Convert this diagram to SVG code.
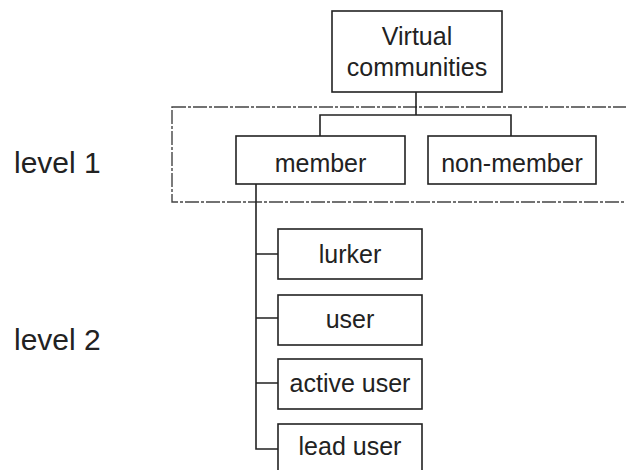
<svg xmlns="http://www.w3.org/2000/svg" width="626" height="470" viewBox="0 0 626 470">
<style>
.box{fill:#fff;stroke:#222;stroke-width:1.6}
.t{font-family:"Liberation Sans",Arial,sans-serif;font-size:25px;fill:#222;text-anchor:middle}
.lv{font-family:"Liberation Sans",Arial,sans-serif;font-size:30px;fill:#222}
.c{fill:none;stroke:#222;stroke-width:1.6}
.grp{fill:none;stroke:#444;stroke-width:1.4;stroke-dasharray:14 2 3 2}
</style>
<rect width="626" height="470" fill="#fff"/>
<rect class="grp" x="172" y="107" width="470" height="95"/>
<g id="connectors">
<path class="c" d="M416 92V115M320 136V115H511V136"/>
<path class="c" d="M256 184V449H278M256 254H278M256 318H278M256 383H278"/>
</g>
<g id="virtual-communities">
<rect class="box" x="332" y="11" width="170" height="81"/>
<text class="t" x="417" y="45">Virtual</text>
<text class="t" x="417" y="76">communities</text>
</g>
<g id="member">
<rect class="box" x="236" y="136" width="169" height="48"/>
<text class="t" x="320.5" y="172">member</text>
</g>
<g id="non-member">
<rect class="box" x="428" y="136" width="168" height="48"/>
<text class="t" x="512" y="172">non-member</text>
</g>
<g id="lurker">
<rect class="box" x="278" y="229" width="144" height="50"/>
<text class="t" x="350" y="263">lurker</text>
</g>
<g id="user">
<rect class="box" x="278" y="295" width="144" height="50"/>
<text class="t" x="350" y="328">user</text>
</g>
<g id="active-user">
<rect class="box" x="278" y="359" width="144" height="50"/>
<text class="t" x="350" y="392">active user</text>
</g>
<g id="lead-user">
<rect class="box" x="278" y="424" width="144" height="60"/>
<text class="t" x="350" y="455">lead user</text>
</g>
<g id="labels">
<text class="lv" x="14" y="173">level 1</text>
<text class="lv" x="14" y="350">level 2</text>
</g>
</svg>
